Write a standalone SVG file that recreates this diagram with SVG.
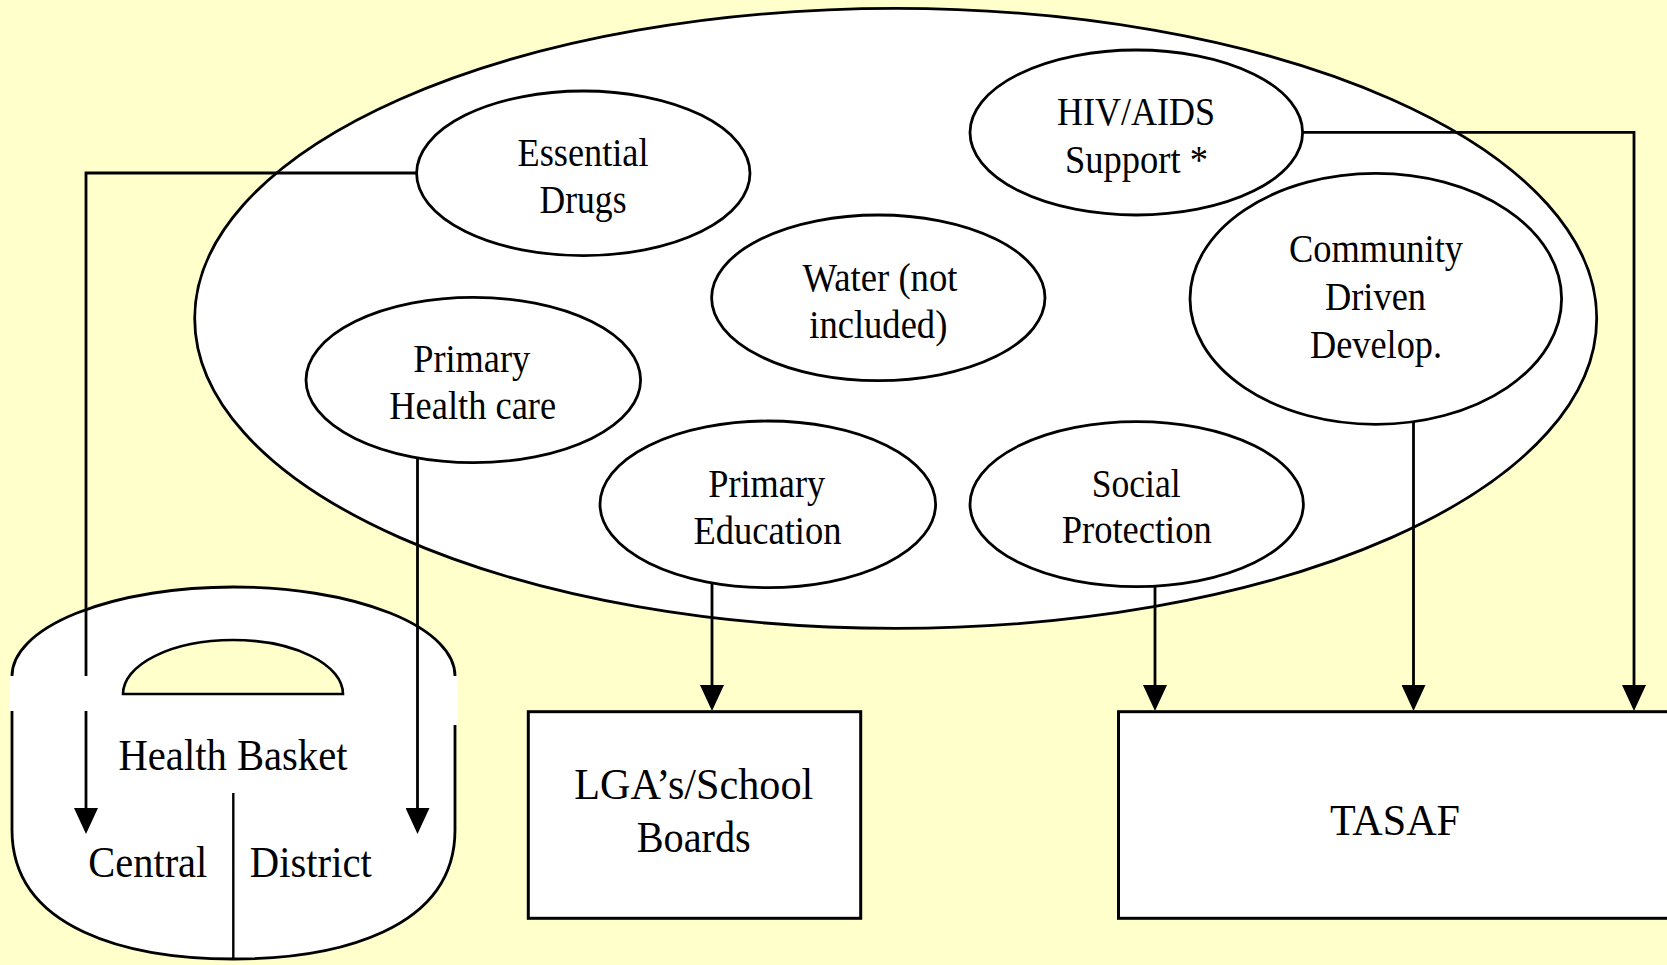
<svg xmlns="http://www.w3.org/2000/svg" width="1667" height="965" viewBox="0 0 1667 965">
<style>
.bg{fill:#FFFFCC}
.shape{fill:#FFFFFF;stroke:#000;stroke-width:2.8}
.box{fill:#FFFFFF;stroke:#000;stroke-width:3}
.conn{fill:none;stroke:#000;stroke-width:2.8}
.t{font-family:"Liberation Serif","Times New Roman",serif;fill:#000;text-anchor:middle}
.s39{font-size:39px}
.s45{font-size:45px}
</style>
<defs>
<marker id="arr" markerUnits="userSpaceOnUse" markerWidth="26" markerHeight="24" viewBox="0 0 26 24" refX="16" refY="12" orient="auto">
<path d="M0,0 L26,12 L0,24 z" fill="#000"/>
</marker>
</defs>
<rect class="bg" x="0" y="0" width="1667" height="965"/>

<g id="outer">
<ellipse class="shape" cx="895.7" cy="318.4" rx="701" ry="310"/>
</g>

<g id="essential-drugs">
<ellipse class="shape" cx="583.3" cy="173.3" rx="166.7" ry="82.3"/>
<text class="t s39" x="583" y="165.7" textLength="131" lengthAdjust="spacingAndGlyphs">Essential</text>
<text class="t s39" x="583" y="213.3" textLength="87" lengthAdjust="spacingAndGlyphs">Drugs</text>
</g>

<g id="hiv-aids">
<ellipse class="shape" cx="1136.3" cy="132.5" rx="166.3" ry="82.5"/>
<text class="t s39" x="1136" y="125" textLength="158" lengthAdjust="spacingAndGlyphs">HIV/AIDS</text>
<text class="t s39" x="1136.5" y="173.3" textLength="143" lengthAdjust="spacingAndGlyphs">Support *</text>
</g>

<g id="water">
<ellipse class="shape" cx="878.3" cy="297.8" rx="166.7" ry="82.8"/>
<text class="t s39" x="880" y="290.7" textLength="155" lengthAdjust="spacingAndGlyphs">Water (not</text>
<text class="t s39" x="878.3" y="338.3" textLength="138" lengthAdjust="spacingAndGlyphs">included)</text>
</g>

<g id="community">
<ellipse class="shape" cx="1375.8" cy="298.8" rx="185.8" ry="125.5"/>
<text class="t s39" x="1376" y="261.7" textLength="174" lengthAdjust="spacingAndGlyphs">Community</text>
<text class="t s39" x="1375.5" y="310" textLength="101" lengthAdjust="spacingAndGlyphs">Driven</text>
<text class="t s39" x="1376" y="357.7" textLength="132" lengthAdjust="spacingAndGlyphs">Develop.</text>
</g>

<g id="primary-health">
<ellipse class="shape" cx="473.3" cy="380" rx="167.3" ry="82.7"/>
<text class="t s39" x="471.7" y="371.7" textLength="117" lengthAdjust="spacingAndGlyphs">Primary</text>
<text class="t s39" x="472.7" y="419.3" textLength="167" lengthAdjust="spacingAndGlyphs">Health care</text>
</g>

<g id="primary-education">
<ellipse class="shape" cx="767.8" cy="504.3" rx="167.8" ry="83.3"/>
<text class="t s39" x="766.7" y="496.7" textLength="117" lengthAdjust="spacingAndGlyphs">Primary</text>
<text class="t s39" x="767.5" y="544.3" textLength="148" lengthAdjust="spacingAndGlyphs">Education</text>
</g>

<g id="social-protection">
<ellipse class="shape" cx="1136.7" cy="504.2" rx="166.7" ry="82.5"/>
<text class="t s39" x="1136.2" y="496.7" textLength="89" lengthAdjust="spacingAndGlyphs">Social</text>
<text class="t s39" x="1136.7" y="543.3" textLength="150" lengthAdjust="spacingAndGlyphs">Protection</text>
</g>

<g id="health-basket">
<path class="shape" d="M12,676 A221.5,89 0 0 1 455,676 L455,830 C455,930 337,959 233.5,959 C130,959 12,930 12,830 Z"/>
<rect x="9" y="676" width="449" height="35" fill="#FFFFFF"/>
<rect x="450" y="711" width="8" height="14" fill="#FFFFFF"/>
<path d="M123,694 A110,54 0 0 1 343,694 Z" fill="#FFFFCC" stroke="#000" stroke-width="2.6"/>
<line x1="233.3" y1="793" x2="233.3" y2="959" stroke="#000" stroke-width="2.4"/>
<text class="t s45" x="233" y="770" textLength="229" lengthAdjust="spacingAndGlyphs">Health Basket</text>
<text class="t s45" x="147.8" y="877.3" textLength="119" lengthAdjust="spacingAndGlyphs">Central</text>
<text class="t s45" x="310.8" y="877.3" textLength="122" lengthAdjust="spacingAndGlyphs">District</text>
</g>

<g id="lga-school-boards">
<rect class="box" x="528.3" y="711.7" width="332.4" height="206.6"/>
<text class="t s45" x="693.7" y="799.3" textLength="239" lengthAdjust="spacingAndGlyphs">LGA’s/School</text>
<text class="t s45" x="693.7" y="851.7" textLength="114" lengthAdjust="spacingAndGlyphs">Boards</text>
</g>

<g id="tasaf">
<rect class="box" x="1118.5" y="711.7" width="560" height="206.6"/>
<text class="t s45" x="1395" y="835" textLength="130" lengthAdjust="spacingAndGlyphs">TASAF</text>
</g>

<g id="connectors">
<path class="conn" d="M416.7,173 H86 V676"/>
<path class="conn" d="M86,711 V824" marker-end="url(#arr)"/>
<path class="conn" d="M417.5,458 V824" marker-end="url(#arr)"/>
<path class="conn" d="M712,583 V701" marker-end="url(#arr)"/>
<path class="conn" d="M1155,586.2 V701" marker-end="url(#arr)"/>
<path class="conn" d="M1413.5,421.5 V701" marker-end="url(#arr)"/>
<path class="conn" d="M1302.6,132.4 H1634 V701" marker-end="url(#arr)"/>
</g>
</svg>
